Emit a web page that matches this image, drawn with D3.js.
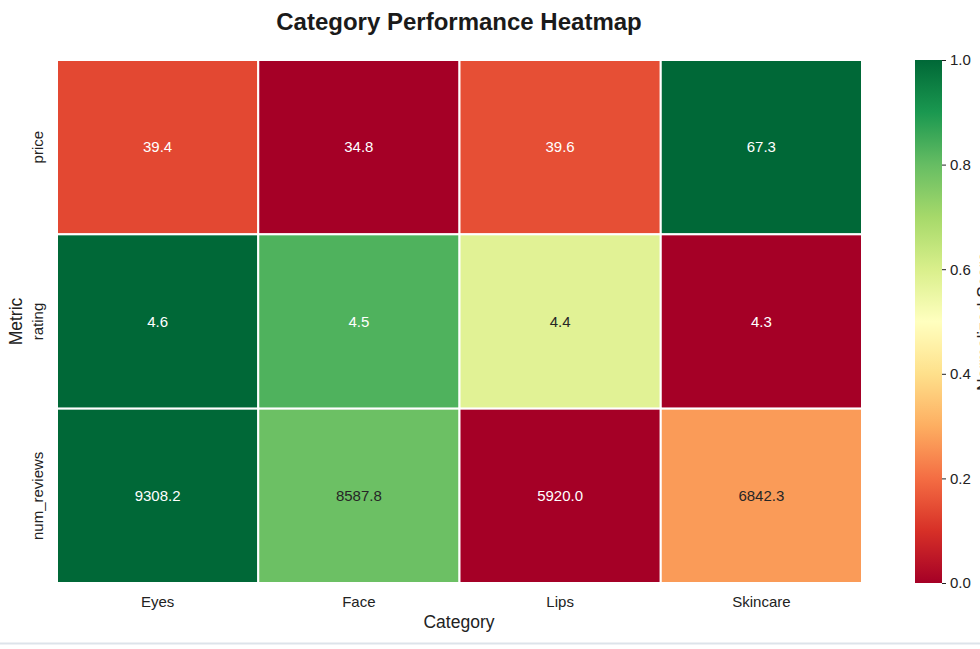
<!DOCTYPE html>
<html><head><meta charset="utf-8">
<script src="https://cdn.jsdelivr.net/npm/d3@7"></script>
<style>body{margin:0;background:#fff;}svg{display:block;font-family:"Liberation Sans",Arial,sans-serif;}</style>
</head><body><svg id="c" width="980" height="649"></svg>
<script>
const categories = ["Eyes", "Face", "Lips", "Skincare"];
const metrics = ["price", "rating", "num_reviews"];
const priceVals = [39.4, 34.8, 39.6, 67.3];
const ratingVals = [4.6, 4.5, 4.4, 4.3];
const reviewVals = [9308.2, 8587.8, 5920.0, 6842.3];
// normalized scores per row
const priceNorm = [0.14, 0.0, 0.15, 1.0];
const ratingNorm = [1.0, 0.83, 0.58, 0.0];
const reviewNorm = [1.0, 0.79, 0.0, 0.27];
const cbTicks = [0.0, 0.2, 0.4, 0.6, 0.8, 1.0];

const rdylgn = ["#a50026","#d73027","#f46d43","#fdae61","#fee08b","#ffffbf","#d9ef8b","#a6d96a","#66bd63","#1a9850","#006837"];
const color = d3.scaleLinear().domain(d3.range(11).map(i => i / 10)).range(rdylgn).interpolate(d3.interpolateRgb);

const rows = [
  {m: "price", vals: priceVals, norm: priceNorm},
  {m: "rating", vals: ratingVals, norm: ratingNorm},
  {m: "num_reviews", vals: reviewVals, norm: reviewNorm}
];
const cells = [];
rows.forEach(r => categories.forEach((c, i) => cells.push({m: r.m, c, v: r.vals[i], n: r.norm[i]})));

const FF = "Liberation Sans, Arial, sans-serif";
const svg = d3.select("#c");
const L = 57, R = 862, T = 60, B = 583;
const x = d3.scaleBand().domain(categories).range([L, R]);
const y = d3.scaleBand().domain(metrics).range([T, B]);

svg.append("text").attr("x", 459).attr("y", 30).attr("text-anchor", "middle")
  .attr("font-size", 24).attr("font-weight", "bold").attr("fill", "#1a1a1a").text("Category Performance Heatmap");

function lum(c) {
  const rgb = d3.rgb(c);
  const f = v => { v /= 255; return v <= 0.03928 ? v / 12.92 : Math.pow((v + 0.055) / 1.055, 2.4); };
  return 0.2126 * f(rgb.r) + 0.7152 * f(rgb.g) + 0.0722 * f(rgb.b);
}

const g = svg.append("g");
g.selectAll("rect").data(cells).join("rect")
  .attr("x", d => x(d.c)).attr("y", d => y(d.m))
  .attr("width", x.bandwidth()).attr("height", y.bandwidth())
  .attr("fill", d => color(d.n)).attr("stroke", "#fff").attr("stroke-width", 2);
g.selectAll("text").data(cells).join("text")
  .attr("x", d => x(d.c) + x.bandwidth() / 2).attr("y", d => y(d.m) + y.bandwidth() / 2)
  .attr("dy", "0.35em").attr("text-anchor", "middle").attr("font-size", 15)
  .attr("fill", d => lum(color(d.n)) > 0.408 ? "#262626" : "#fff")
  .text(d => d.v.toFixed(1));

// x axis
const xa = svg.append("g").attr("transform", `translate(0,${B})`)
  .call(d3.axisBottom(x).tickSize(0).tickPadding(13));
xa.select(".domain").remove();
xa.selectAll("text").attr("font-size", 15).attr("fill", "#222").attr("font-family", FF);
// y axis
const ya = svg.append("g").attr("transform", `translate(${L},0)`)
  .call(d3.axisLeft(y).tickSize(0).tickPadding(0));
ya.select(".domain").remove();
ya.selectAll("text").attr("font-size", 15).attr("fill", "#222").attr("font-family", FF)
  .attr("text-anchor", "middle").attr("dy", 0).attr("x", 0).attr("y", 0)
  .attr("transform", "translate(-14,0) rotate(-90)");

svg.append("text").attr("x", 459).attr("y", 628).attr("text-anchor", "middle").attr("font-size", 17.5).attr("fill", "#222").text("Category");
svg.append("text").attr("transform", `translate(22,${(T + B) / 2}) rotate(-90)`).attr("text-anchor", "middle")
  .attr("font-size", 17.5).attr("fill", "#222").text("Metric");

// colorbar
const cbx = 915, cbw = 27;
const defs = svg.append("defs");
const grad = defs.append("linearGradient").attr("id", "cbg").attr("x1", 0).attr("y1", 1).attr("x2", 0).attr("y2", 0);
d3.range(0, 1.0001, 0.05).forEach(t => grad.append("stop").attr("offset", t).attr("stop-color", color(t)));
svg.append("rect").attr("x", cbx).attr("y", T).attr("width", cbw).attr("height", B - T).attr("fill", "url(#cbg)");
const cy = d3.scaleLinear().domain([0, 1]).range([B, T]);
const ca = svg.append("g").attr("transform", `translate(${cbx + cbw},0)`)
  .call(d3.axisRight(cy).tickValues(cbTicks).tickFormat(d3.format(".1f")).tickSize(4).tickPadding(4));
ca.select(".domain").remove();
ca.selectAll("line").attr("stroke", "#222");
ca.selectAll("text").attr("font-size", 15).attr("fill", "#222").attr("font-family", FF);
svg.append("text").attr("transform", `translate(990,${(T + B) / 2}) rotate(-90)`).attr("text-anchor", "middle")
  .attr("font-size", 17.5).attr("fill", "#222").text("Normalized Score");

svg.append("line").attr("x1", 0).attr("x2", 980).attr("y1", 643.5).attr("y2", 643.5).attr("stroke", "#dde3ea").attr("stroke-width", 2);
</script></body></html>
